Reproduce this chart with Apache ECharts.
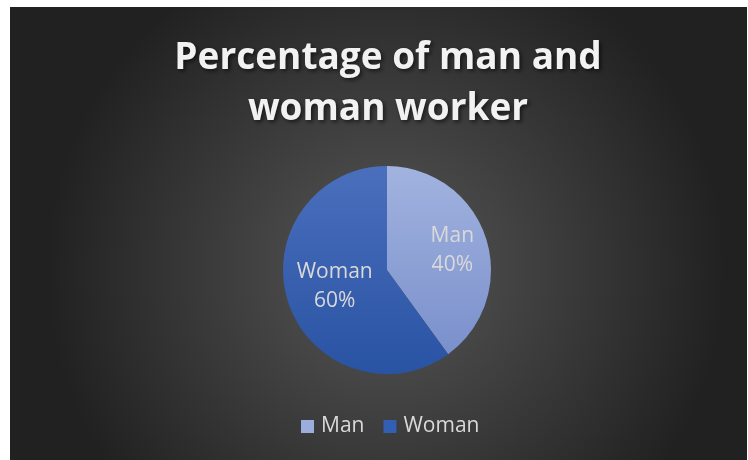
<!DOCTYPE html>
<html><head><meta charset="utf-8">
<script src="https://cdn.jsdelivr.net/npm/echarts@6/dist/echarts.min.js"></script>
<style>html,body{margin:0;padding:0;background:#fff}#c{width:748px;height:460px}</style>
</head><body><div id="c"></div>
<script>
const categories = ['Man', 'Woman'];
const values = [40, 60];
const titleText = 'Percentage of man and\nwoman worker';

const colors = [
  new echarts.graphic.LinearGradient(0,0,0,1,[{offset:0,color:'#a2b3df'},{offset:1,color:'#7a90cc'}]),
  new echarts.graphic.LinearGradient(0,0,0,1,[{offset:0,color:'#4a6fbd'},{offset:1,color:'#2953a3'}])
];
const legendColors = ['#9aaddc', '#325eb3'];

const chart = echarts.init(document.getElementById('c'), null, {renderer:'canvas'});
chart.setOption({
  backgroundColor: '#ffffff',
  animation: false,
  graphic: [{
    type: 'rect', z: -10, silent: true,
    shape: {x: 10, y: 7, width: 737, height: 453},
    style: {fill: new echarts.graphic.RadialGradient(0.51, 0.58, 0.75, [{offset:0,color:'#575757'},{offset:1,color:'#212121'}])}
  }],
  title: {
    text: titleText,
    left: 383, top: 28,
    textAlign: 'center',
    textStyle: {
      fontFamily: 'Open Sans', fontWeight: 'bold', fontSize: 37, color: '#f2f2f2',
      lineHeight: 51,
      textShadowColor: 'rgba(0,0,0,0.6)', textShadowBlur: 4, textShadowOffsetX: 2, textShadowOffsetY: 2
    }
  },
  legend: {
    bottom: 18, left: 296,
    itemWidth: 13, itemHeight: 13, itemGap: 19, icon: 'rect',
    textStyle: {color: '#d9d9d9', fontSize: 21, fontFamily: 'Open Sans', padding: [0,0,0,2]},
    data: categories.map((c,i)=>({name:c, itemStyle:{color: legendColors[i]}}))
  },
  series: [{
    type: 'pie',
    center: [387, 270], radius: 104,
    startAngle: 90, clockwise: true,
    label: {
      position: 'inner', color: '#d9d9d9', fontSize: 21, fontFamily: 'Open Sans',
      lineHeight: 29, formatter: p => p.name + '\n' + p.value + '%'
    },
    labelLayout: p => p.dataIndex === 0 ? {dx: 13, dy: -2} : {},
    labelLine: {show: false},
    itemStyle: {borderWidth: 0},
    emphasis: {disabled: true},
    data: categories.map((c,i)=>({name:c, value: values[i], itemStyle:{color: colors[i]}}))
  }]
});
</script></body></html>
